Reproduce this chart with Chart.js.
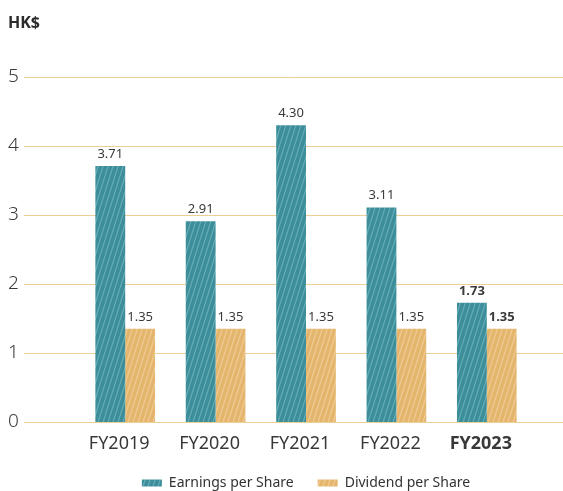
<!DOCTYPE html>
<html>
<head>
<meta charset="utf-8">
<script src="https://cdn.jsdelivr.net/npm/chart.js@4/dist/chart.umd.min.js"></script>
<style>
	html, body { margin: 0; padding: 0; background: #fff; }
	#wrap { width: 563px; height: 491px; position: relative; }
</style>
</head>
<body>
<div id="wrap"><canvas id="chart"></canvas></div>
<script>
var categories = ['FY2019', 'FY2020', 'FY2021', 'FY2022', 'FY2023'];
var earnings = [3.71, 2.91, 4.30, 3.11, 1.73];
var dividends = [1.35, 1.35, 1.35, 1.35, 1.35];
var yTicks = [0, 1, 2, 3, 4, 5];

var FONT = '"Noto Sans", "Open Sans", sans-serif';
var gridColor = '#ebcf96';

function stripes(base, line) {
	var c = document.createElement('canvas');
	c.width = 5; c.height = 16;
	var g = c.getContext('2d');
	g.fillStyle = base;
	g.fillRect(0, 0, 5, 16);
	g.strokeStyle = line;
	g.lineWidth = 1.2;
	for (var k = -1; k <= 1; k++) {
		g.beginPath();
		g.moveTo(k * 5, 16);
		g.lineTo(k * 5 + 5, 0);
		g.stroke();
	}
	return g.createPattern(c, 'repeat');
}

var tealFill = stripes('#3b8e9a', '#68acb5');
var tanFill = stripes('#e4b56c', '#efcb94');

// gridlines run the full width, wider than the bar area
var gridPlugin = {
	id: 'grid',
	beforeDatasetsDraw: function(chart) {
		var ctx = chart.ctx, y = chart.scales.y;
		ctx.save();
		ctx.strokeStyle = gridColor;
		ctx.lineWidth = 1;
		yTicks.forEach(function(v) {
			var py = Math.round(y.getPixelForValue(v)) + 0.5;
			ctx.beginPath();
			ctx.moveTo(24, py);
			ctx.lineTo(563, py);
			ctx.stroke();
		});
		ctx.restore();
	}
};

var labelPlugin = {
	id: 'valueLabels',
	afterDatasetsDraw: function(chart) {
		var ctx = chart.ctx;
		ctx.save();
		ctx.textAlign = 'center';
		ctx.textBaseline = 'alphabetic';
		ctx.fillStyle = '#3a3a3a';
		chart.data.datasets.forEach(function(ds, di) {
			chart.getDatasetMeta(di).data.forEach(function(bar, i) {
				var last = i === categories.length - 1;
				ctx.font = (last ? 'bold ' : '') + '13px ' + FONT;
				ctx.fillText(ds.data[i].toFixed(2), bar.x, bar.y - 8);
			});
		});
		// unit label
		ctx.textAlign = 'left';
		ctx.font = 'bold 16px ' + FONT;
		ctx.fillStyle = '#2b2b2b';
		ctx.fillText('HK$', 8, 28);
		ctx.restore();
	}
};

var chart = new Chart(document.getElementById('chart'), {
	type: 'bar',
	data: {
		labels: categories,
		datasets: [
			{
				label: 'Earnings per Share',
				data: earnings,
				backgroundColor: tealFill,
				borderWidth: 0
			},
			{
				label: 'Dividend per Share',
				data: dividends,
				backgroundColor: tanFill,
				borderWidth: 0
			}
		]
	},
	options: {
		responsive: true,
		maintainAspectRatio: false,
		animation: false,
		layout: { padding: { left: 8, right: 31, top: 77, bottom: -9 } },
		datasets: { bar: { categoryPercentage: 0.66, barPercentage: 1 } },
		scales: {
			x: {
				afterFit: function(scale) { scale.height = 30; },
				grid: { display: false, drawTicks: false },
				border: { display: false },
				ticks: {
					color: '#383838',
					padding: 11,
					labelOffset: -6,
					font: function(c) {
						return { family: FONT, size: 18, weight: c.index === 4 ? 'bold' : 'normal' };
					}
				}
			},
			y: {
				min: 0,
				max: 5,
				afterFit: function(scale) { scale.width = 72; },
				afterBuildTicks: function(scale) {
					scale.ticks = yTicks.map(function(v) { return { value: v }; });
				},
				grid: { display: false, drawTicks: false },
				border: { display: false },
				ticks: {
					crossAlign: 'far',
					color: '#3a3a3a',
					font: { family: FONT, size: 19, weight: '300' }
				}
			}
		},
		plugins: {
			legend: {
				position: 'bottom',
				fullSize: false,
				labels: {
					boxWidth: 20,
					boxHeight: 7,
					padding: 24,
					color: '#333',
					font: { family: FONT, size: 14 }
				}
			},
			tooltip: { enabled: false }
		}
	},
	plugins: [gridPlugin, labelPlugin]
});
</script>
</body>
</html>
